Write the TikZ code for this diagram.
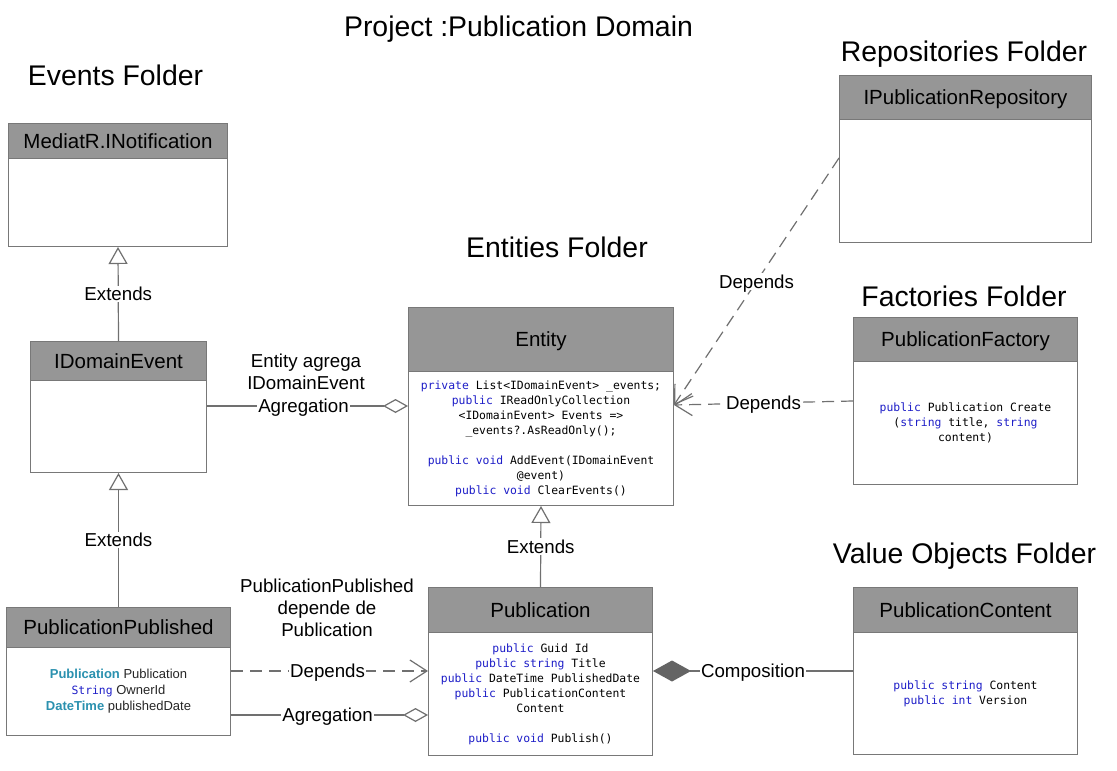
\documentclass[tikz,border=0pt]{standalone}
\usepackage{fontspec}
\setmainfont{Liberation Sans}
\newfontfamily\codefont{DejaVu Sans Mono}
\usetikzlibrary{arrows.meta}
\definecolor{hdrgray}{RGB}{150,150,150}
\definecolor{bordergray}{RGB}{120,120,120}
\definecolor{linegray}{RGB}{112,112,112}
\definecolor{kwblue}{RGB}{30,30,200}
\definecolor{tealtype}{RGB}{43,145,175}
\definecolor{compgray}{RGB}{100,100,100}
\newcommand\kwd[1]{\textcolor{kwblue}{#1}}
\newcommand\typ[1]{\textcolor{tealtype}{\bfseries #1}}
\tikzset{
  hdr/.style={draw=bordergray, line width=1pt, fill=hdrgray, anchor=north west, inner sep=0pt,
    font=\fontsize{20.5}{24}\selectfont, text height=14.7pt, text depth=0pt},
  bodybox/.style={draw=bordergray, line width=1pt, fill=white, anchor=north west, inner sep=0pt,
    align=center, font=\codefont\fontsize{11.4}{15}\selectfont},
  folder/.style={anchor=base, inner sep=0pt, font=\fontsize{28.4}{32}\selectfont},
  lbl/.style={fill=white, inner sep=1.5pt, font=\fontsize{18.7}{22}\selectfont, text height=13.4pt, text depth=0pt},
  note/.style={align=center, inner sep=0pt, font=\fontsize{18.7}{22}\selectfont},
  conn/.style={draw=linegray, line width=1.2pt},
  ext/.style={conn, -{Triangle[open, length=17pt, width=19pt, line width=1.2pt]}},
  agg/.style={conn, -{Diamond[open, length=25pt, width=14pt, line width=1.2pt]}},
  comp/.style={conn, -{Diamond[length=38pt, width=21pt, fill=compgray, color=compgray]}},
  dep/.style={conn, dash pattern=on 12pt off 7pt, -{Straight Barb[length=17pt, width=22pt, line width=1.2pt]}},
}
\begin{document}
\begin{tikzpicture}[x=1pt, y=-1pt]
\useasboundingbox[fill=white] (0,0) rectangle (1117,771);

% titles
\node[folder] (title) at (518.5,36) {Project :Publication Domain};
\node[folder] (evf) at (115.5,85) {Events Folder};
\node[folder] (repf) at (964,61) {Repositories Folder};
\node[folder] (entf) at (557,257) {Entities Folder};
\node[folder] (facf) at (964,306) {Factories Folder};
\node[folder] (vof) at (964.5,563) {Value Objects Folder};

% MediatR.INotification
\node[hdr, minimum width=219pt, minimum height=35pt] (inot-h) at (8,123) {MediatR.INotification};
\node[bodybox, minimum width=219pt, minimum height=88pt] (inot) at (8,158) {};

% IDomainEvent
\node[hdr, minimum width=176pt, minimum height=39pt] (idom-h) at (30,341) {IDomainEvent};
\node[bodybox, minimum width=176pt, minimum height=92pt] (idom) at (30,380) {};

% PublicationPublished
\node[hdr, minimum width=224pt, minimum height=40pt] (pp-h) at (6,607) {PublicationPublished};
\node[bodybox, minimum width=224pt, minimum height=88pt, font=\fontsize{13}{16}\selectfont\color{black!85}] (pp) at (6,647)
  {\typ{Publication} Publication\\
   {\codefont\fontsize{11.4}{16}\selectfont\kwd{String}} OwnerId\\
   \typ{DateTime} publishedDate};

% Entity
\node[hdr, minimum width=265pt, minimum height=64pt] (ent-h) at (408,307) {Entity};
\node[bodybox, minimum width=265pt, minimum height=134pt] (ent) at (408,371)
  {\kwd{private} List<IDomainEvent> \_events;\\
   \kwd{public} IReadOnlyCollection\\
   <IDomainEvent> Events =>\\
   \_events?.AsReadOnly();\\[15pt]
   \kwd{public} \kwd{void} AddEvent(IDomainEvent\\
   @event)\\
   \kwd{public} \kwd{void} ClearEvents()};

% Publication
\node[hdr, minimum width=224pt, minimum height=45pt] (pub-h) at (428,587) {Publication};
\node[bodybox, minimum width=224pt, minimum height=123pt] (pub) at (428,632)
  {\kwd{public} Guid Id\\
   \kwd{public} \kwd{string} Title\\
   \kwd{public} DateTime PublishedDate\\
   \kwd{public} PublicationContent\\
   Content\\[15pt]
   \kwd{public} \kwd{void} Publish()};

% IPublicationRepository
\node[hdr, minimum width=252pt, minimum height=44pt] (repo-h) at (839,75) {IPublicationRepository};
\node[bodybox, minimum width=252pt, minimum height=123pt] (repo) at (839,119) {};

% PublicationFactory
\node[hdr, minimum width=224pt, minimum height=44pt] (fac-h) at (853,317) {PublicationFactory};
\node[bodybox, minimum width=224pt, minimum height=123pt] (fac) at (853,361)
  {\kwd{public} Publication Create\\
   (\kwd{string} title, \kwd{string}\\
   content)};

% PublicationContent
\node[hdr, minimum width=224pt, minimum height=45pt] (pc-h) at (853,587) {PublicationContent};
\node[bodybox, minimum width=224pt, minimum height=122pt] (pc) at (853,632)
  {\kwd{public} \kwd{string} Content\\
   \kwd{public} \kwd{int} Version};

% notes
\node[note] (n1) at (306,372) {Entity agrega\\IDomainEvent};
\node[note] (n2) at (327,608) {PublicationPublished\\depende de\\Publication};

% connectors
\draw[ext] (idom-h.north) -- node[lbl] {Extends} (inot.south);
\draw[ext] (pp-h.north) -- node[lbl] {Extends} (idom.south);
\draw[ext] (pub-h.north) -- node[lbl] {Extends} (ent.south);
\draw[agg] (idom.east |- 0,406) -- node[lbl, pos=0.48] {Agregation} (ent.west |- 0,406);
\draw[dep] (pp.east |- 0,671) -- node[lbl, pos=0.49] {Depends} (pub.west |- 0,671);
\draw[agg] (pp.east |- 0,715) -- node[lbl, pos=0.49] {Agregation} (pub.west |- 0,715);
\draw[comp] (pc.west |- 0,671) -- node[lbl, pos=0.5] {Composition} (pub.east |- 0,671);
\draw[dep] (fac.west |- 0,401) -- node[lbl, pos=0.5] {Depends} (ent.east |- 0,405);
\draw[dep] (repo.west |- 0,158) -- node[lbl, pos=0.5] {Depends} (ent.east |- 0,405);
\end{tikzpicture}
\end{document}
